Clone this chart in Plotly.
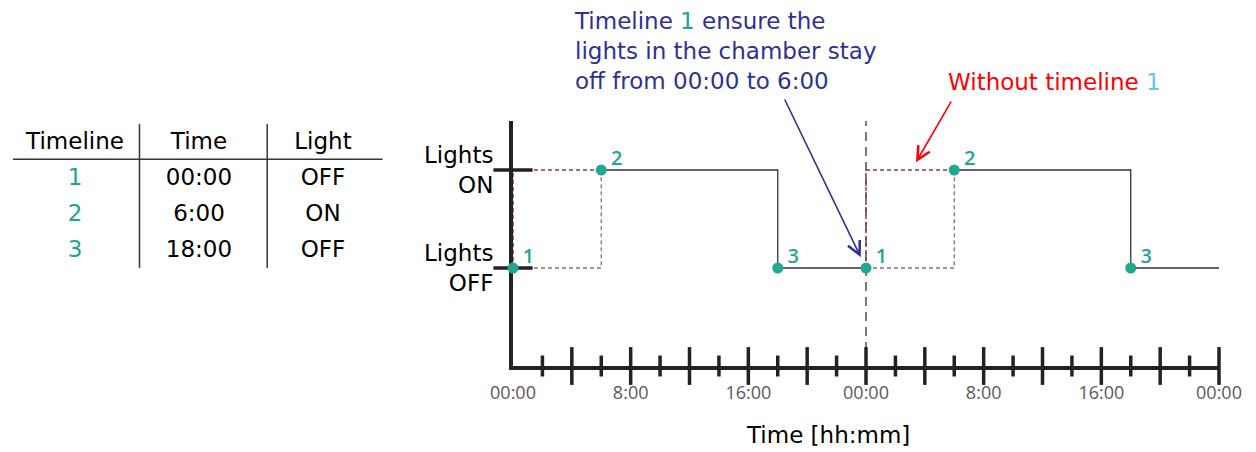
import plotly.graph_objects as go

# ---------------- data ----------------
table_headers = ["Timeline", "Time", "Light"]
timeline_ids = ["1", "2", "3"]
timeline_times = ["00:00", "6:00", "18:00"]
timeline_lights = ["OFF", "ON", "OFF"]

event_hours = [0, 6, 18]      # hour of each timeline entry
event_states = [0, 1, 0]      # 0 = Lights OFF, 1 = Lights ON
n_days = 2
day_hours = 24

y_tick_vals = [0, 1]
y_tick_text = ["Lights<br>OFF", "Lights<br>ON"]
x_label_vals = [0, 8, 16, 24, 32, 40, 48]
x_label_text = ["00:00", "8:00", "16:00", "00:00", "8:00", "16:00", "00:00"]
major_tick_hours = [4, 8, 12, 16, 20, 24, 28, 32, 36, 40, 44, 48]
minor_tick_hours = [2, 6, 10, 14, 18, 22, 26, 30, 34, 38, 42, 46]

# ---------------- styles ----------------
W, H = 1256, 452
OFFSET = 8  # page body margin


def px(x):
    return (x - OFFSET) / W


def py(y):
    return 1 - (y - OFFSET) / H


TEAL = "#22A88F"
TEAL_TXT = "#1FA593"
BLUE = "#2E3192"
RED = "#FF0000"
LIGHTBLUE = "#6CC6E2"
AX = "#222222"
FONT = "DejaVu Sans, Arial, sans-serif"
FS = 23

fig = go.Figure()

# ---- step lines ----
for d in range(n_days):
    off = d * day_hours
    # actual schedule (solid)
    fig.add_trace(go.Scatter(
        x=[off + h for h in event_hours[1:]] + [off + day_hours],
        y=event_states[1:] + [event_states[-1]],
        mode="lines", line=dict(color="#333333", width=1.3, shape="hv"),
        cliponaxis=False, showlegend=False, hoverinfo="skip"))
    # with timeline 1 (grey dashed)
    fig.add_trace(go.Scatter(
        x=[off + event_hours[0], off + event_hours[1]],
        y=[event_states[0], event_states[1]],
        mode="lines", line=dict(color="#777777", width=1.3, shape="hv", dash="4px,3px"),
        cliponaxis=False, showlegend=False, hoverinfo="skip"))
    # without timeline 1 (dark red dashed)
    fig.add_trace(go.Scatter(
        x=[off + event_hours[0], off + event_hours[1]],
        y=[event_states[0], event_states[1]],
        mode="lines", line=dict(color="#8B3A4C", width=1.5, shape="vh", dash="4px,3px"),
        cliponaxis=False, showlegend=False, hoverinfo="skip"))

# ---- axis ticks crossing the axis lines ----
fig.add_trace(go.Scatter(
    x=major_tick_hours, y=[-1] * len(major_tick_hours), mode="markers",
    marker=dict(symbol="line-ns", size=27, line=dict(color=AX, width=3.5)),
    cliponaxis=False, showlegend=False, hoverinfo="skip"))
fig.add_trace(go.Scatter(
    x=minor_tick_hours, y=[-1] * len(minor_tick_hours), mode="markers",
    marker=dict(symbol="line-ns", size=15, line=dict(color=AX, width=3.5)),
    cliponaxis=False, showlegend=False, hoverinfo="skip"))
fig.add_trace(go.Scatter(
    x=[0] * len(y_tick_vals), y=y_tick_vals, mode="markers",
    marker=dict(symbol="line-ew", size=28, line=dict(color=AX, width=3.5)),
    cliponaxis=False, showlegend=False, hoverinfo="skip"))

# ---- timeline points ----
pt_x = [d * day_hours + h for d in range(n_days) for h in event_hours]
pt_y = event_states * n_days
pt_t = timeline_ids * n_days
fig.add_trace(go.Scatter(
    x=pt_x, y=pt_y, mode="markers",
    marker=dict(color=TEAL, size=11),
    cliponaxis=False, showlegend=False, hoverinfo="skip"))
LABEL_LIFT = 0.1  # label raised slightly above its point (data units)
fig.add_trace(go.Scatter(
    x=pt_x, y=[v + LABEL_LIFT for v in pt_y], text=pt_t, mode="markers+text",
    textposition="middle right", marker=dict(size=14, color="rgba(0,0,0,0)"),
    textfont=dict(color=TEAL_TXT, size=20, family="Open Sans", weight=600),
    cliponaxis=False, showlegend=False, hoverinfo="skip"))

# midnight divider
fig.add_vline(x=day_hours, line=dict(color=AX, width=1.2, dash="9px,6px"), layer="below")

# ---- table (own axes) ----
rows = list(range(1, len(timeline_ids) + 1))
fig.add_trace(go.Scatter(
    x=table_headers, y=[0] * 3, text=table_headers, mode="text",
    textfont=dict(color="black", size=FS, family=FONT),
    xaxis="x2", yaxis="y2", showlegend=False, hoverinfo="skip"))
for col, vals, color in [(table_headers[0], timeline_ids, TEAL_TXT),
                         (table_headers[1], timeline_times, "black"),
                         (table_headers[2], timeline_lights, "black")]:
    fig.add_trace(go.Scatter(
        x=[col] * len(vals), y=rows, text=vals, mode="text",
        textfont=dict(color=color, size=FS, family=FONT),
        xaxis="x2", yaxis="y2", showlegend=False, hoverinfo="skip"))

shapes = [
    dict(type="line", xref="x2", yref="y2", x0=-0.54, x1=2.48, y0=0.45, y1=0.45,
         line=dict(color="#333333", width=1.5)),
    dict(type="line", xref="x2", yref="y2", x0=0.52, x1=0.52, y0=-0.53, y1=3.47,
         line=dict(color="#333333", width=1.5)),
    dict(type="line", xref="x2", yref="y2", x0=1.55, x1=1.55, y0=-0.53, y1=3.47,
         line=dict(color="#333333", width=1.5)),
]
for s in shapes:
    fig.add_shape(**s)

# ---- annotations ----
annotations = [
    dict(text="Timeline <span style='color:%s'>1</span> ensure the<br>lights in the chamber stay<br>off from 00:00 to 6:00" % TEAL_TXT,
         xref="paper", yref="paper", x=px(572), y=py(6), xanchor="left", yanchor="top",
         align="left", showarrow=False, font=dict(family=FONT, size=FS, color=BLUE)),
    dict(text="Without timeline <span style='color:%s'>1</span>" % LIGHTBLUE,
         xref="paper", yref="paper", x=px(946), y=py(82), xanchor="left", yanchor="middle",
         showarrow=False, font=dict(family=FONT, size=FS, color=RED)),
    dict(text="Time [hh:mm]", xref="paper", yref="paper", x=px(828), y=py(435),
         xanchor="center", yanchor="middle", showarrow=False,
         font=dict(family=FONT, size=FS, color="black")),
    # arrows
    dict(text="", xref="x", yref="y", x=day_hours, y=0, ax=-82, ay=-170, standoff=12,
         showarrow=True, arrowhead=5, arrowsize=1.6, arrowwidth=1.6, arrowcolor=BLUE),
    dict(text="", xref="x", yref="y", x=27.4, y=1.08, ax=36, ay=-62,
         showarrow=True, arrowhead=5, arrowsize=1.6, arrowwidth=1.6, arrowcolor=RED),
]

fig.update_layout(
    width=W, height=H,
    margin=dict(l=0, r=0, t=0, b=0, pad=0, autoexpand=False),
    paper_bgcolor="white", plot_bgcolor="white",
    annotations=annotations,
    xaxis=dict(domain=[px(513), px(1219)], range=[0, n_days * day_hours],
               showgrid=False, zeroline=False, showline=True, linecolor=AX, linewidth=4,
               tickvals=x_label_vals, ticktext=x_label_text, ticks="",
               ticklabelstandoff=7, layer="below traces", automargin=False,
               tickfont=dict(family="Open Sans", size=18, color="#595959")),
    yaxis=dict(domain=[py(366), py(121)], range=[-1, 1.5],
               showgrid=False, zeroline=False, showline=True, linecolor=AX, linewidth=4,
               tickvals=y_tick_vals, ticktext=y_tick_text, ticks="",
               ticklabelstandoff=11, layer="below traces", automargin=False,
               tickfont=dict(family=FONT, size=FS, color="black")),
    xaxis2=dict(domain=[px(13), px(385)], type="category", range=[-0.5, 2.5],
                categoryorder="array", categoryarray=table_headers,
                visible=False, anchor="y2", automargin=False),
    yaxis2=dict(domain=[py(278), py(116)], range=[3.75, -0.75],
                visible=False, anchor="x2", automargin=False),
)

fig.write_html("out.html")
